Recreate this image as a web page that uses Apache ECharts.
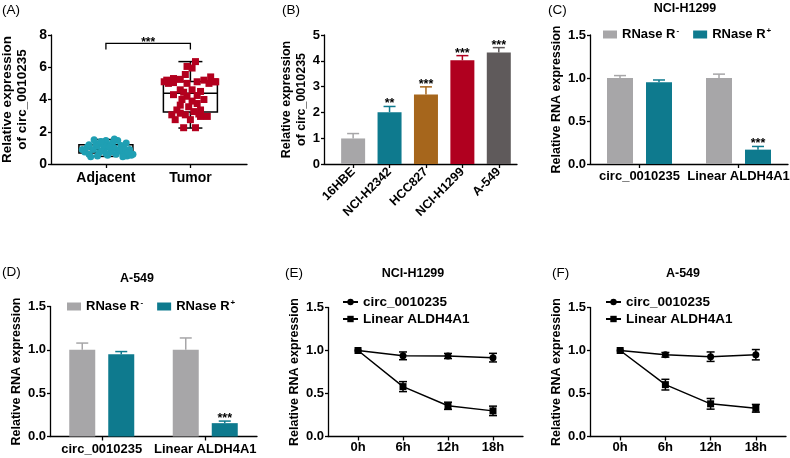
<!DOCTYPE html>
<html><head><meta charset="utf-8">
<script src="https://cdn.jsdelivr.net/npm/echarts@6/dist/echarts.min.js"></script>
<style>html,body{margin:0;padding:0;background:#fff}#c{width:790px;height:458px}</style>
</head><body><div id="c"></div>
<script>
// ---------------- DATA ----------------
// Panel A
const aCategories = ['Adjacent', 'Tumor'];
const aAdjacentPoints = [ // [jitter, value]
  [-0.25,0.75],[-0.2,0.6],[-0.15,0.9],[-0.1,1.1],[-0.05,1.3],[0,1.45],[0.05,1.2],[0.1,1.0],
  [0.15,0.8],[0.2,0.65],[0.25,0.5],[0.3,0.55],[-0.22,1.05],[-0.12,1.25],[-0.02,0.95],[0.08,1.35],
  [0.18,1.15],[0.28,0.9],[-0.18,0.45],[-0.08,0.7],[0.02,0.55],[0.12,0.6],[0.22,0.95],[-0.28,0.9],
  [-0.05,0.8],[0.06,0.75],[0.14,1.45],[-0.14,1.5],[0.24,1.3],[0.32,0.6],[-0.02,1.15],[0.1,1.55],
  [-0.1,0.5],[0.04,1.05],[0.16,0.9],[-0.2,1.2],[0.26,0.7],[0.0,0.65],[-0.06,1.4],[0.2,0.45]
];
const aTumorPoints = [ // [jitter, value]
  [0.06,6.35],[-0.04,6.05],[0.02,5.95],[-0.06,5.55],[-0.28,5.2],[-0.2,5.3],[-0.12,5.25],[0.08,5.1],
  [0.16,5.2],[0.24,5.4],[0.3,5.1],[-0.26,5.0],[-0.04,5.0],[-0.12,4.6],[0.02,4.6],[0.12,4.5],
  [-0.2,4.3],[-0.04,4.2],[0.08,4.25],[-0.1,4.0],[0.02,3.9],[0.16,4.0],[-0.12,3.65],[-0.02,3.55],
  [-0.16,3.35],[0.04,3.25],[0.12,3.35],[-0.22,3.05],[-0.06,3.05],[0.12,2.95],[0.2,2.95],[-0.18,2.75],
  [0.0,2.75],[-0.08,2.25],[0.06,2.25],[-0.2,5.05],[-0.08,4.45],[0.08,3.75],[-0.12,3.15],[0.1,3.1],
  [0.22,5.0],[-0.31,5.1],[0.29,5.1]
];
const aBoxMin = [0.47, 2.23];
const aBoxQ1 = [0.68, 3.22];
const aBoxMedian = [0.9, 4.39];
const aBoxQ3 = [1.2, 5.11];
const aBoxMax = [1.52, 6.35];
const aBracketY = 7.48;
const aBracketStars = '***';

// Panel B
const bCategories = ['16HBE', 'NCI-H2342', 'HCC827', 'NCI-H1299', 'A-549'];
const bMeans = [0.99, 2.01, 2.69, 4.02, 4.32];
const bErrors = [0.19, 0.22, 0.30, 0.18, 0.19];
const bStars = ['', '**', '***', '***', '***'];

// Panels C & D
const rnaCategories = ['circ_0010235', 'Linear ALDH4A1'];
const rnaSeriesNames = ['RNase R-', 'RNase R+'];
const cMinus = [1.0, 1.0];
const cMinusErr = [0.028, 0.045];
const cPlus = [0.951, 0.167];
const cPlusErr = [0.026, 0.037];
const cStars = ['', '***'];
const dMinus = [1.0, 1.0];
const dMinusErr = [0.078, 0.137];
const dPlus = [0.95, 0.154];
const dPlusErr = [0.03, 0.024];
const dStars = ['', '***'];

// Panels E & F
const timeLabels = ['0h', '6h', '12h', '18h'];
const lineSeriesNames = ['circ_0010235', 'Linear ALDH4A1'];
const eCirc = [1.0, 0.938, 0.936, 0.917];
const eCircErr = [0, 0.045, 0.03, 0.05];
const eLinear = [1.0, 0.58, 0.357, 0.298];
const eLinearErr = [0, 0.058, 0.042, 0.055];
const fCirc = [1.0, 0.95, 0.928, 0.951];
const fCircErr = [0, 0.027, 0.055, 0.06];
const fLinear = [1.0, 0.603, 0.38, 0.328];
const fLinearErr = [0, 0.062, 0.062, 0.045];

// ---------------- STYLE ----------------
const FONT = '"Liberation Sans", Arial, Helvetica, sans-serif';
const GRAY = '#a7a6a8', TEAL = '#0e7a8e';
const bColors = [GRAY, TEAL, '#a6661c', '#b0001f', '#5f5a5b'];
const AX = {color:'#000', width:1.3};

function yAxisCfg(grid, max, interval, name, opts) {
  opts = opts || {};
  return {
    type:'value', gridIndex:grid, min:0, max:max, interval:interval,
    name:name, nameLocation:'middle', nameRotate:90, nameGap:opts.nameGap || 22,
    nameTextStyle:{fontFamily:FONT, fontWeight:'bold', fontSize:opts.nameSize || 12.5, color:'#000', lineHeight:opts.lineHeight || 14},
    axisLine:{show:true, onZero:false, lineStyle:AX},
    axisTick:{show:true, length:3, lineStyle:AX},
    axisLabel:{margin:4, color:'#000', fontFamily:FONT, fontWeight:'bold', fontSize:opts.labelSize || 13,
      formatter: opts.fmt || (v => String(v))},
    splitLine:{show:false}
  };
}
function valueXAxis(grid, min, max, ticks, labels, opts) {
  opts = opts || {};
  return {
    type:'value', gridIndex:grid, min:min, max:max,
    axisLine:{show:true, onZero:false, lineStyle:AX},
    axisTick:{show:true, length:4, lineStyle:AX, customValues:ticks},
    axisLabel:{customValues:ticks, margin:opts.margin || 5, rotate:opts.rotate || 0, color:'#000', fontFamily:FONT,
      fontWeight:'bold', fontSize:opts.size || 13, formatter: v => labels[Math.round(v)]},
    splitLine:{show:false}
  };
}
function catXAxis(grid) {
  return {
    type:'category', gridIndex:grid, data:rnaCategories,
    axisLine:{show:true, onZero:false, lineStyle:AX},
    axisTick:{show:true, length:4, alignWithLabel:true, lineStyle:AX},
    axisLabel:{margin:6, color:'#000', fontFamily:FONT, fontWeight:'bold', fontSize:13, interval:0},
    splitLine:{show:false}
  };
}
const fmt1 = v => v.toFixed(1);

// ---------------- RENDERERS ----------------
function boxRender(params, api) {
  const x = api.value(0);
  const pMin = api.coord([x, api.value(1)]), pQ1 = api.coord([x, api.value(2)]);
  const pMed = api.coord([x, api.value(3)]), pQ3 = api.coord([x, api.value(4)]);
  const pMax = api.coord([x, api.value(5)]);
  const cx = pMed[0], hw = 27, cw = 12;
  const st = {stroke:'#000', lineWidth:1.5};
  return {type:'group', children:[
    {type:'rect', shape:{x:cx-hw, y:pQ3[1], width:2*hw, height:pQ1[1]-pQ3[1]}, style:{stroke:'#000', lineWidth:1.5, fill:'transparent'}},
    {type:'line', shape:{x1:cx-hw, y1:pMed[1], x2:cx+hw, y2:pMed[1]}, style:st},
    {type:'line', shape:{x1:cx, y1:pQ3[1], x2:cx, y2:pMax[1]}, style:st},
    {type:'line', shape:{x1:cx, y1:pQ1[1], x2:cx, y2:pMin[1]}, style:st},
    {type:'line', shape:{x1:cx-cw, y1:pMax[1], x2:cx+cw, y2:pMax[1]}, style:st},
    {type:'line', shape:{x1:cx-cw, y1:pMin[1], x2:cx+cw, y2:pMin[1]}, style:st}
  ]};
}
function bracketRender(params, api) {
  const p0 = api.coord([api.value(0), api.value(2)]);
  const p1 = api.coord([api.value(1), api.value(2)]);
  const st = {stroke:'#000', lineWidth:1.3, fill:null};
  return {type:'group', children:[
    {type:'polyline', shape:{points:[[p0[0], p0[1]+6], [p0[0], p0[1]], [p1[0], p1[1]], [p1[0], p1[1]+6]]}, style:st},
    {type:'text', x:(p0[0]+p1[0])/2, y:p0[1]+5, style:{text:aBracketStars, textAlign:'center', textVerticalAlign:'bottom',
      font:'bold 12px ' + FONT, fill:'#000'}}
  ]};
}
function barErrRender(offset, stars) {
  return function(params, api) {
    const x = api.value(0), v = api.value(1), e = api.value(2);
    const p0 = api.coord([x, v]), p1 = api.coord([x, v + e]);
    const cx = p0[0] + offset;
    const color = api.visual('color');
    const st = {stroke:color, lineWidth:1.5};
    const ch = [
      {type:'line', shape:{x1:cx, y1:p0[1], x2:cx, y2:p1[1]}, style:st},
      {type:'line', shape:{x1:cx-6, y1:p1[1], x2:cx+6, y2:p1[1]}, style:st}
    ];
    const s = stars[params.dataIndex];
    if (s) ch.push({type:'text', x:cx, y:p1[1]+4, style:{text:s, textAlign:'center', textVerticalAlign:'bottom',
      font:'bold 12.5px ' + FONT, fill:'#000'}});
    return {type:'group', children:ch};
  };
}
function lineErrRender(params, api) {
  const x = api.value(0), v = api.value(1), e = api.value(2);
  if (!e) return null;
  const pt = api.coord([x, v + e]), pb = api.coord([x, v - e]);
  const cx = pt[0], st = {stroke:'#000', lineWidth:1.5};
  return {type:'group', children:[
    {type:'line', shape:{x1:cx, y1:pt[1], x2:cx, y2:pb[1]}, style:st},
    {type:'line', shape:{x1:cx-4, y1:pt[1], x2:cx+4, y2:pt[1]}, style:st},
    {type:'line', shape:{x1:cx-4, y1:pb[1], x2:cx+4, y2:pb[1]}, style:st}
  ]};
}

// ---------------- BUILD ----------------
const idx = arr => arr.map((v, i) => [i, v]);
const withErr = (vals, errs) => vals.map((v, i) => [i, v, errs[i]]);

function rnaSeries(g, minus, minusErr, plus, plusErr, stars) {
  return [
    {type:'bar', name:rnaSeriesNames[0], xAxisIndex:g, yAxisIndex:g, data:minus, barWidth:26, barGap:'50%', itemStyle:{color:GRAY}},
    {type:'bar', name:rnaSeriesNames[1], xAxisIndex:g, yAxisIndex:g, data:plus, barWidth:26, barGap:'50%', itemStyle:{color:TEAL}},
    {type:'custom', xAxisIndex:g, yAxisIndex:g, itemStyle:{color:GRAY}, renderItem:barErrRender(-19.5, ['', '']), data:withErr(minus, minusErr), z:3},
    {type:'custom', xAxisIndex:g, yAxisIndex:g, itemStyle:{color:TEAL}, renderItem:barErrRender(19.5, stars), data:withErr(plus, plusErr), z:3}
  ];
}
function timeSeries(g, circ, circErr, lin, linErr) {
  return [
    {type:'line', name:lineSeriesNames[0], xAxisIndex:g, yAxisIndex:g, data:idx(circ), symbol:'circle', symbolSize:7,
      itemStyle:{color:'#000'}, lineStyle:{color:'#000', width:1.5}},
    {type:'line', name:lineSeriesNames[1], xAxisIndex:g, yAxisIndex:g, data:idx(lin), symbol:'rect', symbolSize:7,
      itemStyle:{color:'#000'}, lineStyle:{color:'#000', width:1.5}},
    {type:'custom', xAxisIndex:g, yAxisIndex:g, renderItem:lineErrRender, data:withErr(circ, circErr)},
    {type:'custom', xAxisIndex:g, yAxisIndex:g, renderItem:lineErrRender, data:withErr(lin, linErr)}
  ];
}

const legendRich = {
  b:{fontFamily:FONT, fontWeight:'bold', fontSize:13, color:'#000', lineHeight:15},
  s:{fontFamily:FONT, fontWeight:'bold', fontSize:8, color:'#000', verticalAlign:'top', lineHeight:15, padding:[0,0,0,1]}
};
const rnaLegendFmt = n => '{b|RNase R}{s|' + (n.slice(-1) === '+' ? '+' : '-') + '}';
function rnaLegend(left, top) {
  return {data:rnaSeriesNames, left:left, top:top, padding:0, itemWidth:14, itemHeight:8, itemGap:14, icon:'rect',
    selectedMode:false, formatter:rnaLegendFmt, textStyle:{rich:legendRich}};
}
function timeLegend(left, top) {
  return {data:lineSeriesNames, left:left, top:top, padding:0, orient:'vertical', itemWidth:15, itemHeight:8, itemGap:3,
    selectedMode:false, textStyle:{fontFamily:FONT, fontWeight:'bold', fontSize:13.5, color:'#000'}};
}

function txt(x, y, text, font, align) {
  return {type:'text', x:x, y:y, style:{text:text, font:font, fill:'#000', textAlign:align || 'left', textVerticalAlign:'middle'}};
}
const LBL = 'normal 13.5px ' + FONT, TTL = 'bold 12.5px ' + FONT;

const option = {
  animation:false,
  backgroundColor:'#fff',
  grid:[
    {left:51, top:35, width:196, height:129, outerBoundsMode:'none'},
    {left:324, top:35, width:193, height:129, outerBoundsMode:'none'},
    {left:590, top:35, width:198, height:129, outerBoundsMode:'none'},
    {left:50, top:306.5, width:207, height:130, outerBoundsMode:'none'},
    {left:328, top:307.5, width:195, height:129, outerBoundsMode:'none'},
    {left:590, top:307.5, width:196, height:129, outerBoundsMode:'none'}
  ],
  xAxis:[
    valueXAxis(0, -0.65, 1.67, [0, 1], aCategories, {size:14, margin:7}),
    valueXAxis(1, -0.8, 4.5, [0, 1, 2, 3, 4], bCategories, {rotate:45, margin:6, size:12.5}),
    catXAxis(2),
    catXAxis(3),
    valueXAxis(4, -0.667, 3.667, [0, 1, 2, 3], timeLabels, {margin:4}),
    valueXAxis(5, -0.667, 3.667, [0, 1, 2, 3], timeLabels, {margin:4})
  ],
  yAxis:[
    yAxisCfg(0, 8, 2, 'Relative expression\nof circ_0010235', {nameGap:21, nameSize:13.5, labelSize:14, lineHeight:15}),
    yAxisCfg(1, 5, 1, 'Relative expression\nof circ_0010235', {nameGap:11, nameSize:12.5, labelSize:13, lineHeight:15}),
    yAxisCfg(2, 1.5, 0.5, 'Relative RNA expression', {fmt:fmt1}),
    yAxisCfg(3, 1.5, 0.5, 'Relative RNA expression', {fmt:fmt1}),
    yAxisCfg(4, 1.5, 0.5, 'Relative RNA expression', {fmt:fmt1}),
    yAxisCfg(5, 1.5, 0.5, 'Relative RNA expression', {fmt:fmt1})
  ],
  legend:[rnaLegend(603, 27), rnaLegend(67, 299), timeLegend(342, 295), timeLegend(605, 295)],
  graphic:[
    txt(2, 10, '(A)', LBL), txt(282, 10, '(B)', LBL), txt(548, 10, '(C)', LBL),
    txt(2, 272.5, '(D)', LBL), txt(285, 273, '(E)', LBL), txt(552, 273, '(F)', LBL),
    txt(685, 8.5, 'NCI-H1299', TTL, 'center'), txt(137, 278.5, 'A-549', TTL, 'center'),
    txt(413, 273.5, 'NCI-H1299', TTL, 'center'), txt(683, 273.5, 'A-549', TTL, 'center')
  ],
  series:[
    {type:'custom', xAxisIndex:0, yAxisIndex:0, renderItem:boxRender,
      data:aBoxMin.map((m, i) => [i, m, aBoxQ1[i], aBoxMedian[i], aBoxQ3[i], aBoxMax[i]]), z:1},
    {type:'scatter', xAxisIndex:0, yAxisIndex:0, symbol:'circle', symbolSize:7, itemStyle:{color:'#1f9fb3', opacity:1},
      data:aAdjacentPoints.map(p => [0 + p[0], p[1]]), z:2},
    {type:'scatter', xAxisIndex:0, yAxisIndex:0, symbol:'rect', symbolSize:7, itemStyle:{color:'#b3001e', opacity:1},
      data:aTumorPoints.map(p => [1 + p[0], p[1]]), z:2},
    {type:'custom', xAxisIndex:0, yAxisIndex:0, renderItem:bracketRender, data:[[0, 1, aBracketY]]},
    {type:'bar', xAxisIndex:1, yAxisIndex:1, barWidth:24,
      data:bMeans.map((v, i) => ({value:[i, v], itemStyle:{color:bColors[i]}}))},
    {type:'custom', xAxisIndex:1, yAxisIndex:1, renderItem:barErrRender(0, bStars), z:3,
      data:bMeans.map((v, i) => ({value:[i, v, bErrors[i]], itemStyle:{color:bColors[i]}}))},
    ...rnaSeries(2, cMinus, cMinusErr, cPlus, cPlusErr, cStars),
    ...rnaSeries(3, dMinus, dMinusErr, dPlus, dPlusErr, dStars),
    ...timeSeries(4, eCirc, eCircErr, eLinear, eLinearErr),
    ...timeSeries(5, fCirc, fCircErr, fLinear, fLinearErr)
  ]
};
echarts.init(document.getElementById('c'), null, {renderer:'canvas'}).setOption(option);
</script>
</body></html>
